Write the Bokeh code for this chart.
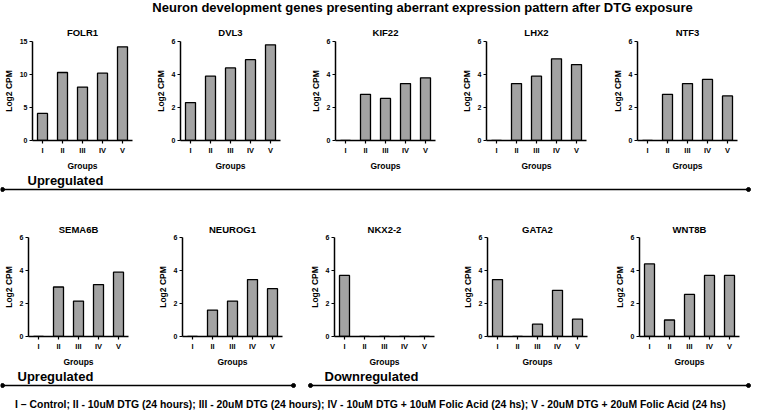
from bokeh.plotting import figure
from bokeh.layouts import column, row
from bokeh.models import Range1d, FactorRange, FixedTicker, ColumnDataSource
from bokeh.embed import file_html
from bokeh.resources import INLINE
from bokeh.core.properties import value

# ---------------- data ----------------
groups = ["I", "II", "III", "IV", "V"]

row1_genes = ["FOLR1", "DVL3", "KIF22", "LHX2", "NTF3"]
folr1 = [4.1, 10.3, 8.1, 10.2, 14.2]
dvl3 = [2.3, 3.9, 4.4, 4.9, 5.8]
kif22 = [0.0, 2.8, 2.55, 3.45, 3.8]
lhx2 = [0.0, 3.45, 3.9, 4.95, 4.6]
ntf3 = [0.0, 2.8, 3.45, 3.7, 2.7]
row1_ymax = [15, 6, 6, 6, 6]
row1_ticks = [[0, 5, 10, 15], [0, 2, 4, 6], [0, 2, 4, 6], [0, 2, 4, 6], [0, 2, 4, 6]]

row2_genes = ["SEMA6B", "NEUROG1", "NKX2-2", "GATA2", "WNT8B"]
sema6b = [0.0, 3.0, 2.15, 3.15, 3.9]
neurog1 = [0.0, 1.6, 2.15, 3.45, 2.9]
nkx22 = [3.7, 0.0, 0.0, 0.0, 0.0]
gata2 = [3.45, 0.0, 0.75, 2.8, 1.05]
wnt8b = [4.4, 1.0, 2.55, 3.7, 3.7]
row2_ymax = [6, 6, 6, 6, 6]
row2_ticks = [[0, 2, 4, 6]] * 5

main_title = "Neuron development genes presenting aberrant expression pattern after DTG exposure"
up_label = "Upregulated"
down_label = "Downregulated"
footnote = ("I \u2013 Control;  II - 10uM DTG (24 hours);  III - 20uM DTG (24 hours);  "
            "IV - 10uM DTG + 10uM Folic Acid (24 hs);  V - 20uM DTG + 20uM Folic Acid (24 hs)")

# ---------------- style ----------------
FONT = "Liberation Sans"
BAR_FILL = "#a3a3a3"


def panel(name, vals, ymax, ticks, left, right, top, bottom, title_standoff):
    p = figure(x_range=FactorRange(*groups), y_range=Range1d(0, ymax),
               frame_width=100, frame_height=99,
               min_border_left=left, min_border_right=right,
               min_border_top=top, min_border_bottom=bottom,
               output_backend="svg", toolbar_location=None, title=name)
    src = ColumnDataSource(dict(g=groups, v=vals))
    p.vbar(x="g", top="v", width=0.5, source=src, fill_color=BAR_FILL,
           line_color="black", line_width=1.3)
    p.title.text_font = FONT
    p.title.text_font_size = "9.5px"
    p.title.text_font_style = "bold"
    p.title.text_color = "black"
    p.title.align = "center"
    p.title.standoff = title_standoff
    p.outline_line_color = None
    p.xgrid.grid_line_color = None
    p.ygrid.grid_line_color = None
    p.yaxis.ticker = FixedTicker(ticks=ticks)
    p.yaxis.minor_tick_line_color = None
    for ax in (p.xaxis, p.yaxis):
        ax.axis_line_width = 1.5
        ax.axis_line_color = "black"
        ax.major_tick_line_width = 1.2
        ax.major_tick_line_color = "black"
        ax.major_tick_out = 3
        ax.major_tick_in = 0
        ax.major_label_text_font = FONT
        ax.major_label_text_font_style = "bold"
        ax.major_label_text_color = "black"
        ax.axis_label_text_font = FONT
        ax.axis_label_text_font_style = "bold"
        ax.axis_label_text_font_size = "8.5px"
        ax.axis_label_text_color = "black"
        ax.major_label_standoff = 2
        ax.axis_label_standoff = 3
    p.xaxis.major_label_text_font_size = "7.5px"
    p.yaxis.major_label_text_font_size = "7px"
    p.xaxis.axis_label = "Groups"
    p.yaxis.axis_label = "Log2 CPM"
    return p


def canvas(width, height, x0, y0):
    p = figure(width=width, height=height, x_range=Range1d(x0, x0 + width),
               y_range=Range1d(y0 + height, y0), min_border=0,
               output_backend="svg", toolbar_location=None,
               x_axis_type=None, y_axis_type=None)
    p.outline_line_color = None
    p.xgrid.visible = False
    p.ygrid.visible = False
    return p


def separator(p, x0, x1, y):
    p.segment(x0=[x0], y0=[y], x1=[x1], y1=[y], line_color="black", line_width=1.6)
    p.scatter(x=[x0, x1], y=[y, y], size=4, color="black")


# header
header = canvas(751, 16, 8, 8)
header.text(x=[430], y=[15], text=[main_title], text_align="center", text_baseline="middle",
            text_font=value(FONT), text_font_style="bold", text_font_size="13px", text_color="black")

# row 1
row1_vals = [folr1, dvl3, kif22, lhx2, ntf3]
r1_left = [30, 25, 30, 30, 30]
r1_right = [20, 25, 21, 21, 19]
row1 = [panel(g, v, m, t, l, r, 25, 28, 8) for g, v, m, t, l, r in
        zip(row1_genes, row1_vals, row1_ymax, row1_ticks, r1_left, r1_right)]

# separator 1
sep1 = canvas(751, 24, 8, 176)
sep1.text(x=[35], y=[183], text=[up_label], text_align="left", text_baseline="middle",
          text_font=value(FONT), text_font_style="bold", text_font_size="13px", text_color="black")
separator(sep1, 10, 756, 192)

# row 2
row2_vals = [sema6b, neurog1, nkx22, gata2, wnt8b]
r2_left = [24, 26, 28, 30, 31]
r2_right = [26, 24, 23, 21, 18]
row2 = [panel(g, v, m, t, l, r, 40, 27, 6) for g, v, m, t, l, r in
        zip(row2_genes, row2_vals, row2_ymax, row2_ticks, r2_left, r2_right)]

# bottom band
bottom = canvas(751, 42, 8, 366)
bottom.text(x=[25, 332], y=[373, 373], text=[up_label, down_label], text_align="left",
            text_baseline="middle", text_font=value(FONT), text_font_style="bold",
            text_font_size="13px", text_color="black")
separator(bottom, 10, 301, 382)
separator(bottom, 318, 756, 382)
bottom.text(x=[384], y=[401], text=[footnote], text_align="center", text_baseline="middle",
            text_font=value(FONT), text_font_style="bold", text_font_size="10.4px", text_color="black")

layout = column(header, row(*row1, spacing=0), sep1, row(*row2, spacing=0), bottom, spacing=0)

open("out.html", "w").write(file_html(layout, INLINE))
